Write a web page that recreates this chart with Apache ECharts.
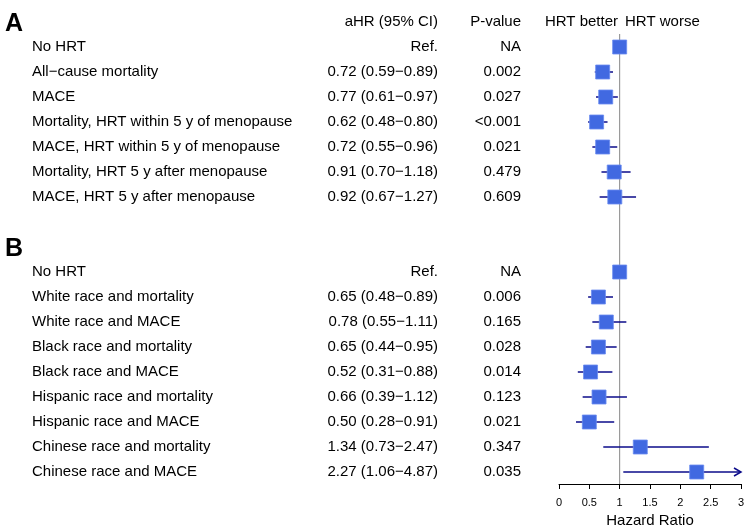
<!DOCTYPE html>
<html>
<head>
<meta charset="utf-8">
<script src="https://cdn.jsdelivr.net/npm/echarts@6/dist/echarts.min.js"></script>
<style>
  html, body { margin: 0; padding: 0; background: #fff; }
  #main { width: 747px; height: 525px; }
</style>
</head>
<body>
<div id="main"></div>
<script>
// rows: 0-6 panel A, 7 blank, 8 panel B header, 9-17 panel B
const rowLabels = [
  'No HRT', 'All−cause mortality', 'MACE',
  'Mortality, HRT within 5 y of menopause', 'MACE, HRT within 5 y of menopause',
  'Mortality, HRT 5 y after menopause', 'MACE, HRT 5 y after menopause',
  '', '',
  'No HRT', 'White race and mortality', 'White race and MACE',
  'Black race and mortality', 'Black race and MACE',
  'Hispanic race and mortality', 'Hispanic race and MACE',
  'Chinese race and mortality', 'Chinese race and MACE'
];
const hr = [1, 0.72, 0.77, 0.62, 0.72, 0.91, 0.92, null, null, 1, 0.65, 0.78, 0.65, 0.52, 0.66, 0.50, 1.34, 2.27];
const lower = [null, 0.59, 0.61, 0.48, 0.55, 0.70, 0.67, null, null, null, 0.48, 0.55, 0.44, 0.31, 0.39, 0.28, 0.73, 1.06];
const upper = [null, 0.89, 0.97, 0.80, 0.96, 1.18, 1.27, null, null, null, 0.89, 1.11, 0.95, 0.88, 1.12, 0.91, 2.47, 4.87];
const pValues = ['NA', '0.002', '0.027', '<0.001', '0.021', '0.479', '0.609', '', '',
  'NA', '0.006', '0.165', '0.028', '0.014', '0.123', '0.021', '0.347', '0.035'];
const panelLetters = [['A', -1], ['B', 8]];
const xMax = 3;

const ciText = (i) => {
  if (hr[i] == null) return '';
  if (lower[i] == null) return 'Ref.';
  const f = (v) => v.toFixed(2);
  return f(hr[i]) + ' (' + f(lower[i]) + '−' + f(upper[i]) + ')';
};

const rows = rowLabels.map((l, i) => [hr[i], i, lower[i], upper[i]]);
const font = '"Liberation Sans", Arial, Helvetica, sans-serif';
const textStyle = { fontFamily: font, fontSize: 15, fill: '#000' };

const chart = echarts.init(document.getElementById('main'));
chart.setOption({
  animation: false,
  grid: { left: 559, right: 6, top: 34, bottom: 41, outerBoundsMode: 'none', containLabel: false },
  xAxis: {
    type: 'value', min: 0, max: xMax, interval: 0.5,
    axisLine: { show: true, onZero: false, lineStyle: { color: '#000', width: 1 } },
    axisTick: { show: true, length: 5, lineStyle: { color: '#000' } },
    axisLabel: { color: '#000', fontSize: 11, fontFamily: font, margin: 13 },
    splitLine: { show: false },
    name: 'Hazard Ratio', nameLocation: 'middle', nameGap: 25,
    nameTextStyle: { color: '#000', fontSize: 15, fontFamily: font }
  },
  yAxis: {
    type: 'value', inverse: true, min: -0.52, max: 17.48, show: false
  },
  series: [
    {
      type: 'line',
      data: [[1, -0.52], [1, 17.48]],
      symbol: 'none',
      lineStyle: { color: '#888', width: 1 },
      silent: true,
      z: 1
    },
    {
      type: 'custom',
      clip: false,
      data: rows,
      encode: { x: 0, y: 1 },
      renderItem: (params, api) => {
        const i = api.value(1);
        const y = api.coord([0, i])[1];
        const children = [];
        if (rowLabels[i]) {
          children.push({ type: 'text', style: Object.assign({ x: 32, y: y, text: rowLabels[i], textVerticalAlign: 'middle', textAlign: 'left' }, textStyle) });
          children.push({ type: 'text', style: Object.assign({ x: 438, y: y, text: ciText(i), textVerticalAlign: 'middle', textAlign: 'right' }, textStyle) });
          children.push({ type: 'text', style: Object.assign({ x: 521, y: y, text: pValues[i], textVerticalAlign: 'middle', textAlign: 'right' }, textStyle) });
        }
        if (hr[i] != null) {
          if (lower[i] != null) {
            const hiVal = Math.min(upper[i], xMax);
            const p1 = api.coord([lower[i], i]);
            const p2 = api.coord([hiVal, i]);
            children.push({ type: 'line', shape: { x1: p1[0], y1: y, x2: p2[0], y2: y }, style: { stroke: '#0b0b8a', lineWidth: 1.5 } });
            if (upper[i] > xMax) {
              children.push({ type: 'polyline', shape: { points: [[p2[0] - 7, y - 4], [p2[0], y], [p2[0] - 7, y + 4]] }, style: { stroke: '#0b0b8a', lineWidth: 1.5, fill: null } });
            }
          }
          const c = api.coord([hr[i], i]);
          const s = 14;
          children.push({ type: 'rect', shape: { x: c[0] - s / 2, y: y - s / 2, width: s, height: s }, style: { fill: '#4169E1', stroke: '#6a8cf0', lineWidth: 0.8 } });
        }
        return { type: 'group', children: children };
      },
      z: 3
    },
    {
      type: 'custom',
      clip: false,
      data: panelLetters.map((p) => [0, p[1]]),
      encode: { x: 0, y: 1 },
      renderItem: (params, api) => {
        const idx = params.dataIndex;
        const y = api.coord([0, api.value(1)])[1];
        const children = [{
          type: 'text',
          style: { x: 5, y: y + 2, text: panelLetters[idx][0], textVerticalAlign: 'middle', fontFamily: font, fontSize: 25, fontWeight: 'bold', fill: '#000' }
        }];
        if (idx === 0) {
          const hs = { fontFamily: font, fontSize: 15, fill: '#000', textVerticalAlign: 'middle' };
          children.push({ type: 'text', style: Object.assign({ x: 438, y: y, text: 'aHR (95% CI)', textAlign: 'right' }, hs) });
          children.push({ type: 'text', style: Object.assign({ x: 521, y: y, text: 'P-value', textAlign: 'right' }, hs) });
          children.push({ type: 'text', style: Object.assign({ x: 618, y: y, text: 'HRT better', textAlign: 'right' }, hs) });
          children.push({ type: 'text', style: Object.assign({ x: 625, y: y, text: 'HRT worse', textAlign: 'left' }, hs) });
        }
        return { type: 'group', children: children };
      },
      z: 3
    }
  ]
});
</script>
</body>
</html>
